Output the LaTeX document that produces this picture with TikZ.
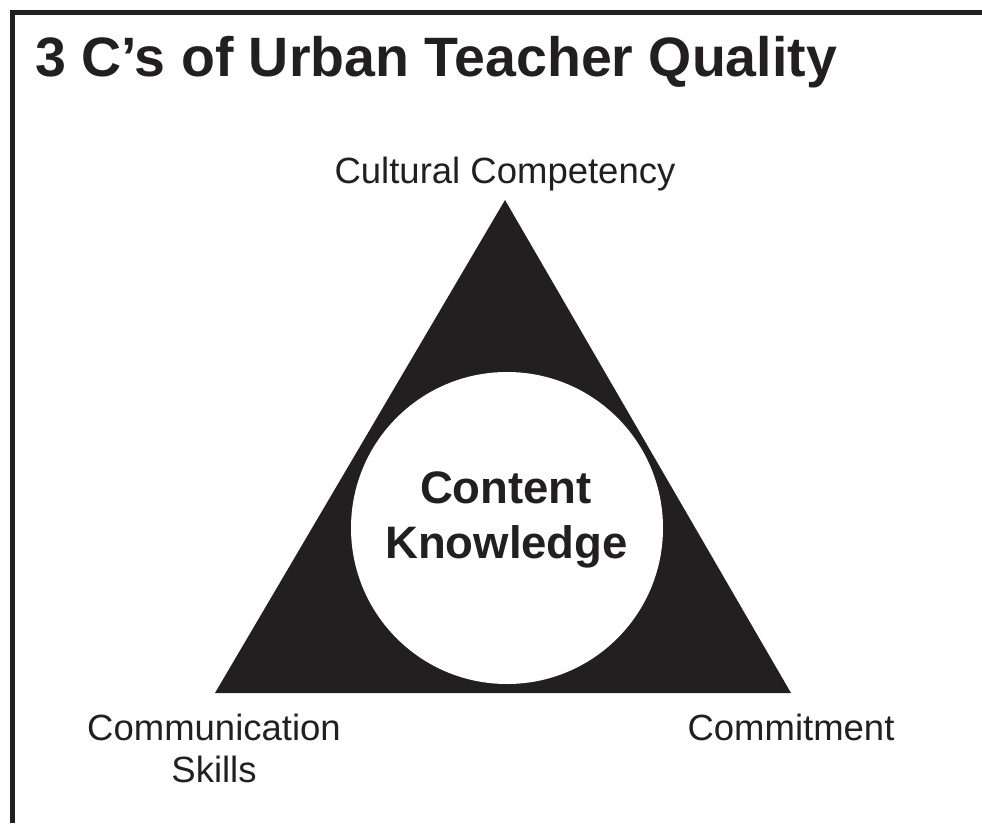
\documentclass[tikz,border=0pt]{standalone}
\usepackage{fontspec}
\setmainfont{Liberation Sans}
\definecolor{ink}{HTML}{231F20}
\begin{document}
\begin{tikzpicture}[x=1pt,y=-1pt,
  lbl/.style={text=ink, inner sep=0pt, anchor=base, font=\fontsize{36.5}{42}\selectfont},
  bold/.style={text=ink, inner sep=0pt, anchor=base, font=\fontsize{45.5}{55}\selectfont\bfseries}]
\useasboundingbox (0,0) rectangle (982,823);
\draw[ink, line width=4.5pt] (12.5,823) -- (12.5,12.5) -- (982,12.5);
\node[text=ink, inner sep=0pt, anchor=base west, font=\fontsize{55.5}{60}\selectfont\bfseries] (title) at (35,76) {3 C’s of Urban Teacher Quality};
\coordinate (apex) at (505,200);
\coordinate (bl) at (215,693);
\coordinate (br) at (791,693);
\fill[ink] (apex) -- (bl) -- (br) -- cycle;
\node[circle, fill=white, minimum size=312pt, inner sep=0pt] (ck) at (507,528) {};
\node[bold] (content) at (506,503) {Content};
\node[bold] (knowledge) at (506.5,558) {Knowledge};
\node[lbl] (cc) at (505,183) {Cultural Competency};
\node[lbl] (comm) at (214,740) {Communication};
\node[lbl] (skills) at (214,782) {Skills};
\node[lbl] (commit) at (791,740) {Commitment};
\end{tikzpicture}
\end{document}
